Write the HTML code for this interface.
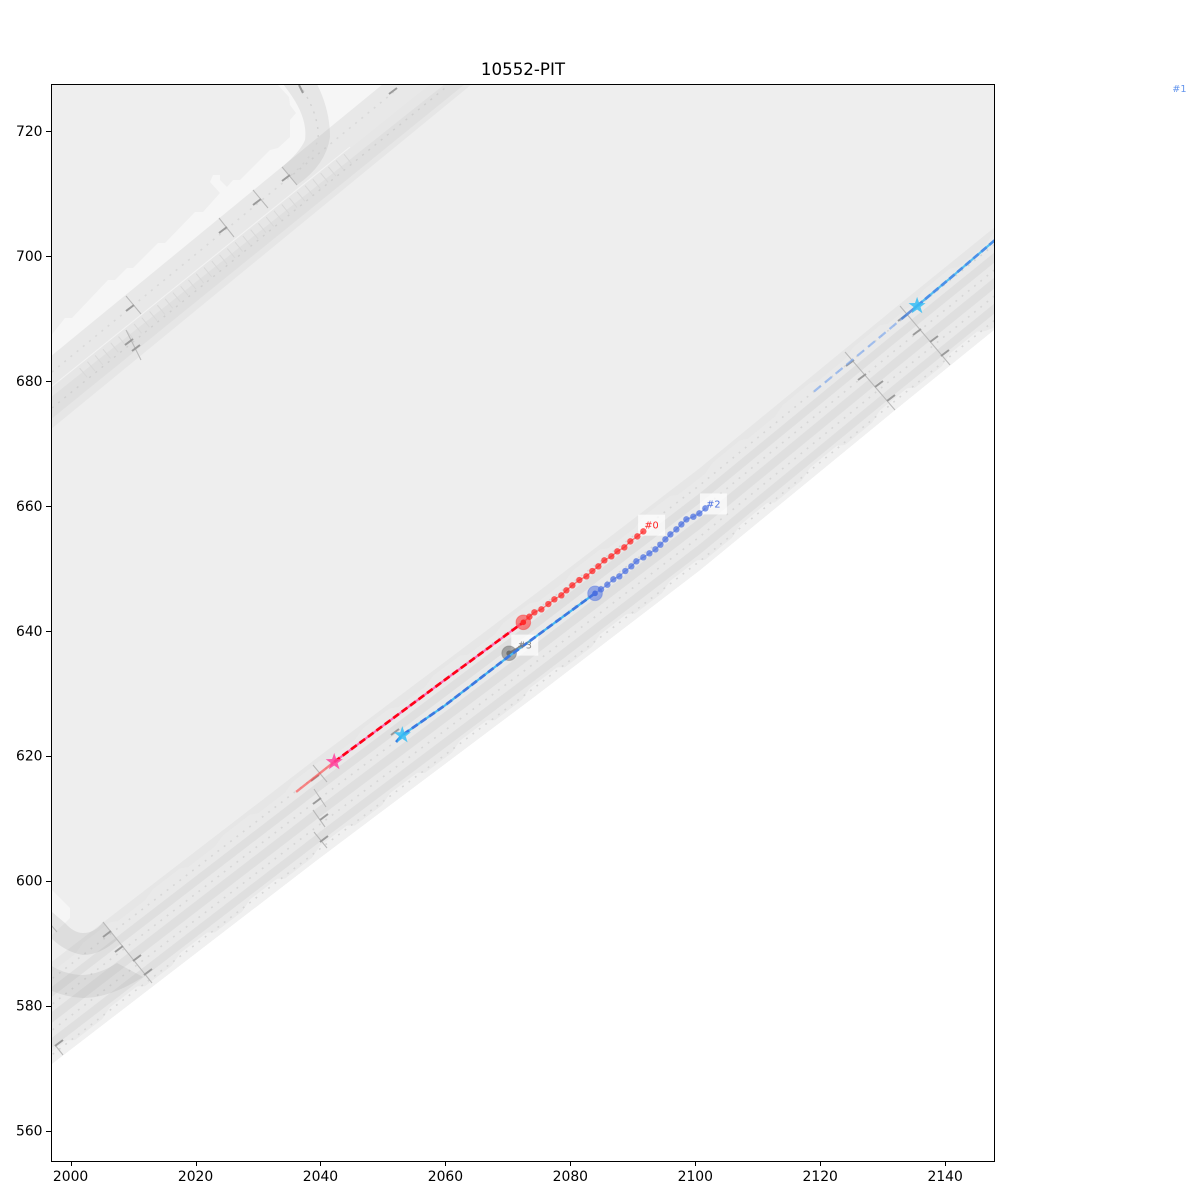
<!DOCTYPE html>
<html>
<head>
<meta charset="utf-8">
<title>10552-PIT</title>
<style>
html,body{margin:0;padding:0;background:#fff;}
svg{display:block;}
text{font-family:"DejaVu Sans","Liberation Sans",sans-serif;}
</style>
</head>
<body>
<svg id="chart" xmlns="http://www.w3.org/2000/svg" width="1200" height="1200" viewBox="0 0 1200 1200">
  <defs><clipPath id="axclip"><rect x="51" y="84" width="943" height="1077"/></clipPath></defs>
  <rect x="0" y="0" width="1200" height="1200" fill="#fff"/>
  <g id="map" clip-path="url(#axclip)">
    <polygon points="40,84 1000,84 1000,325 895,410 700,570 534,697 317,860 53,1063 40,1073" fill="#eeeeee"/>
    <polygon points="50,337 65,318 72,318 108,280 115,280 127,268 133,268 158,243 165,243 195,212 203,212 220,193 210,182 213,175 220,175 220,180 227,187 233,180 240,180 270,150 278,148 290,137 290,120 296,113 290,105 289,97 277,84 400,84 50,372" fill="#f6f6f6"/>
    <polygon points="50,357 383,84 430,84 50,388" fill="#e8e8e8"/>
    <polygon points="50,388 430,84 472,84 50,430" fill="#e6e6e6"/>
    <polygon points="50,398 445,84 465,84 50,420" fill="#dfdfdf"/>
    <line x1="50" y1="388" x2="350" y2="147" stroke="#f2f2f2" stroke-width="1.1"/>
    <line x1="83" y1="373" x2="350" y2="157" stroke="#d8d8d8" stroke-width="12" stroke-dasharray="1 9"/>
    <line x1="52" y1="372" x2="395" y2="91" stroke="#d9d9d9" stroke-width="1.6" stroke-dasharray="2 6"/>
    <line x1="52" y1="408" x2="450" y2="84" stroke="#cfcfcf" stroke-width="1.4" stroke-dasharray="2 6"/>
    <path d="M289,92 Q308,118 305,140 Q300,152 282,167 L297,185 Q326,165 330,137 Q330,110 317,84 L283,84 Z" fill="#969696" fill-opacity="0.16"/>
    <path d="M303,90 Q320,118 318,140 Q312,158 290,176" fill="none" stroke="#d2d2d2" stroke-width="1.4" stroke-dasharray="2 6"/>
    <g id="lanes"></g>
    <polygon points="52,890 70,908 70,918 65,923 52,935" fill="#f6f6f6"/>
    <path d="M52,912 L65,923 Q74,933 83,933 Q95,933 103,922 L117,940 Q100,955 83,955 Q65,952 50,937 Z" fill="#909090" fill-opacity="0.18"/>
    <path d="M50,965 Q66,975 83,975 Q100,974 117,963 L143,977 Q110,998 83,998 Q65,997 50,990 Z" fill="#909090" fill-opacity="0.16"/>
    <path d="M126,296L141,314M219,218L234,237M253,190L268,208M282,167L297,185M126,330L141,360M845,352L895,410M900,306L950,365M103,922L152,983M55,1045L63,1055M313,765L327,782M314,789L326,807M313,810L325,827M314,832L327,848M51,925L57,932" fill="none" stroke="#b9b9b9" stroke-width="1.1"/>
    <path d="M126,311L134,305M219,233L227,227M253,205L261,199M282,181L290,175M299,85L303,93M389,94L397,88M125,345L133,339M132,351L140,345M846,366L854,360M858,380L866,374M875,387L883,381M887,401L895,395M913,335L921,329M930,342L938,336M941,356L949,350M898,321L906,315M103,937L111,931M115,952L123,946M133,961L141,955M144,975L152,969M55,1046L63,1040M311,781L319,775M313,804L321,798M320,820L328,814M320,842L328,836M391,735L399,729" fill="none" stroke="#9b9b9b" stroke-width="2"/>
  </g>
  <g id="boxes"></g>
  <g id="traj" clip-path="url(#axclip)"></g>
  <rect x="51.5" y="84.5" width="943" height="1077" fill="none" stroke="#000" stroke-width="1" shape-rendering="crispEdges"/>
  <g id="axes"></g>
  <g id="labels"></g>
  <text x="523" y="75" text-anchor="middle" font-size="16.67" fill="#000">10552-PIT</text>
</svg>
<script>
var xTicks = [2000, 2020, 2040, 2060, 2080, 2100, 2120, 2140];
var yTicks = [560, 580, 600, 620, 640, 660, 680, 700, 720];

var agent0PastX = [2036.1, 2042.2, 2050, 2060, 2072.47];
var agent0PastY = [614.2, 619.0, 624.8, 632.2, 641.35];
var agent0FutureX = [2072.47, 2073.44, 2074.24, 2075.36, 2076.48, 2077.44, 2078.56, 2079.36, 2080.32, 2081.44, 2082.56, 2083.52, 2084.48, 2085.44, 2086.56, 2087.52, 2088.64, 2089.60, 2090.72, 2091.68];
var agent0FutureY = [641.35, 642.25, 642.95, 643.43, 644.28, 645.03, 645.67, 646.47, 647.27, 648.12, 648.71, 649.56, 650.31, 651.27, 651.91, 652.71, 653.35, 654.31, 655.11, 655.91];

var agent2PastX = [2052.1, 2053.1, 2060, 2070, 2083.95];
var agent2PastY = [622.2, 623.3, 628.1, 635.8, 645.99];
var agent2FutureX = [2083.95, 2084.91, 2085.92, 2086.88, 2087.84, 2088.80, 2089.76, 2090.56, 2091.68, 2092.65, 2093.61, 2094.41, 2095.21, 2096.01, 2096.97, 2097.77, 2098.57, 2099.69, 2100.65, 2101.61];
var agent2FutureY = [645.99, 646.63, 647.37, 648.23, 648.71, 649.56, 650.31, 651.11, 651.75, 652.39, 653.03, 653.78, 654.63, 655.43, 656.23, 657.03, 657.83, 658.26, 658.79, 659.59];

var agent1FadedX = [2119.0, 2127, 2133, 2135.5];
var agent1FadedY = [678.3, 684.9, 689.9, 692.0];
var agent1PastX = [2135.5, 2141, 2148.5];
var agent1PastY = [692.0, 696.6, 703.0];

var agent3X = [2070.2, 2071.6, 2072.3];
var agent3Y = [636.4, 637.2, 637.7];

var laneEdgeX = [40, 53, 317, 534, 700, 895, 1000];
var laneEdgeY = [1073, 1063, 860, 697, 570, 410, 325];

var NS = 'http://www.w3.org/2000/svg';
function xf(x){ return 70.6 + (x - 2000) * 6.247; }
function yf(y){ return 131 + (720 - y) * 6.247; }
function mk(tag, parent, attrs){
  var el = document.createElementNS(NS, tag);
  for (var k in attrs) el.setAttribute(k, attrs[k]);
  parent.appendChild(el);
  return el;
}
function ptsOf(xs, ys){
  return xs.map(function(x, i){ return xf(x).toFixed(1) + ',' + yf(ys[i]).toFixed(1); }).join(' ');
}
function offsetEdge(off){
  return laneEdgeX.map(function(x, i){ return x + ',' + (laneEdgeY[i] - off); });
}
function edgeY(x){
  for (var i = 0; i < laneEdgeX.length - 1; i++) {
    if (x <= laneEdgeX[i + 1]) {
      return laneEdgeY[i] + (laneEdgeY[i + 1] - laneEdgeY[i]) * (x - laneEdgeX[i]) / (laneEdgeX[i + 1] - laneEdgeX[i]);
    }
  }
  return laneEdgeY[laneEdgeY.length - 1];
}
function scallop(base, amp, phase){
  var out = [], x = 40, i = phase;
  while (x <= 1000) {
    var off = base + (i % 4 < 2 ? amp : 0);
    out.push(x + ',' + (edgeY(x) - off).toFixed(1));
    x += (i % 2 ? 8 : 27);
    i++;
  }
  return out;
}

var lanes = document.getElementById('lanes');
function band(name, a, b, fill){
  var el = mk('polygon', lanes, {points: offsetEdge(a).concat(offsetEdge(b).reverse()).join(' '), fill: fill});
  
  
}
function scallopBand(name, a, b, amp, phase, fill){
  var el = mk('polygon', lanes, {points: offsetEdge(a).concat(scallop(b, amp, phase).reverse()).join(' '), fill: fill});
  
  
}
function dots(name, off){
  var el = mk('polyline', lanes, {points: offsetEdge(off).join(' '), fill: 'none', stroke: '#d6d6d6', 'stroke-width': 1.6, 'stroke-dasharray': '1.8 6.2'});
  
  
}
band('road-surface', 0, 102, '#e9e9e9');
scallopBand('road-outer-shoulder', 0, 6, 6, 0, '#f0f0f0');
scallopBand('road-inner-shoulder', 102, 92, 5, 1, '#e6e6e6');
band('road-median-near', 16, 26, '#dfdfdf');
band('road-median-middle', 41, 52, '#dfdfdf');
band('road-median-far', 67, 77, '#dfdfdf');
dots('lane-dots-outer', 9);
dots('lane-dots-near', 33.5);
dots('lane-dots-middle', 59.5);
dots('lane-dots-inner', 85);

var axes = document.getElementById('axes');
xTicks.forEach(function(t){
  var px = Math.round(xf(t)) + 0.5;
  var tickLine = mk('line', axes, {x1: px, x2: px, y1: 1162, y2: 1166, stroke: '#000', 'stroke-width': 1, 'shape-rendering': 'crispEdges'});
  
  
  var tickText = mk('text', axes, {x: xf(t), y: 1181, 'text-anchor': 'middle', 'font-size': 13.9, fill: '#000'});
  
  
  tickText.textContent = t;
});
yTicks.forEach(function(t){
  var py = Math.round(yf(t)) + 0.5;
  var tickLine = mk('line', axes, {x1: 46, x2: 51, y1: py, y2: py, stroke: '#000', 'stroke-width': 1, 'shape-rendering': 'crispEdges'});
  
  
  var tickText = mk('text', axes, {x: 42.5, y: yf(t) + 5, 'text-anchor': 'end', 'font-size': 13.9, fill: '#000'});
  
  
  tickText.textContent = t;
});

var traj = document.getElementById('traj');
function path(name, xs, ys, color, width, dash, opacity){
  var el = mk('polyline', traj, {points: ptsOf(xs, ys), fill: 'none', stroke: color, 'stroke-width': width, 'stroke-opacity': opacity});
  if (dash) el.setAttribute('stroke-dasharray', dash);
  
  
}
function dotsOf(name, xs, ys, color){
  var line = mk('polyline', traj, {points: ptsOf(xs, ys), fill: 'none', stroke: color, 'stroke-width': 1.4, 'stroke-opacity': 0.55});
  
  
  xs.forEach(function(x, i){
    if (i === 0) return;
    var el = mk('circle', traj, {cx: xf(x), cy: yf(ys[i]), r: 3.2, fill: color, 'fill-opacity': 0.72});
    
    
  });
}
function current(name, x, y, color){
  var halo = mk('circle', traj, {cx: xf(x), cy: yf(y), r: 7.3, fill: color, 'fill-opacity': 0.55, stroke: color, 'stroke-opacity': 0.4});
  
  
  var core = mk('circle', traj, {cx: xf(x), cy: yf(y), r: 2.8, fill: color});
  
  
}
function star(name, x, y, color){
  var p = [], i;
  for (i = 0; i < 10; i++) {
    var r = i % 2 ? 3.6 : 9, a = -Math.PI / 2 + i * Math.PI / 5;
    p.push((xf(x) + r * Math.cos(a)).toFixed(1) + ',' + (yf(y) + r * Math.sin(a)).toFixed(1));
  }
  var el = mk('polygon', traj, {points: p.join(' '), fill: color, 'fill-opacity': 0.85});
  
  
}

path('agent-0-start-faded', agent0PastX.slice(0, 2), agent0PastY.slice(0, 2), '#ff4040', 2.4, '', 0.6);
path('agent-0-history-under', agent0PastX.slice(1), agent0PastY.slice(1), '#ff69b4', 2.2, '', 1);
path('agent-0-history', agent0PastX.slice(1), agent0PastY.slice(1), '#ff0018', 2.7, '7 3.5', 1);
dotsOf('agent-0-future-dot', agent0FutureX, agent0FutureY, '#ff2020');
current('agent-0-current', agent0FutureX[0], agent0FutureY[0], '#ff2a2a');
star('agent-0-start-star', agent0PastX[1], agent0PastY[1], '#ff3f9e');

path('agent-3-line', agent3X, agent3Y, '#707070', 2.4, '', 0.85);
current('agent-3-current', agent3X[0], agent3Y[0], '#6e6e6e');

path('agent-2-history-under', agent2PastX, agent2PastY, '#45b8f0', 2.2, '', 1);
path('agent-2-history', agent2PastX, agent2PastY, '#3b78e0', 2.7, '7 3.5', 1);
dotsOf('agent-2-future-dot', agent2FutureX, agent2FutureY, '#4a6fe0');
current('agent-2-current', agent2FutureX[0], agent2FutureY[0], '#4a6fe0');
star('agent-2-start-star', agent2PastX[1], agent2PastY[1], '#35bdf5');

path('agent-1-faded', agent1FadedX.slice(0, 3), agent1FadedY.slice(0, 3), '#7aa6ee', 2.2, '9 5', 0.65);
path('agent-1-faded-near', agent1FadedX.slice(2), agent1FadedY.slice(2), '#4a82d8', 2.6, '', 0.85);
path('agent-1-history-under', agent1PastX, agent1PastY, '#55bff0', 2.2, '', 1);
path('agent-1-history', agent1PastX, agent1PastY, '#4a90e8', 2.7, '7 3.5', 1);
star('agent-1-start-star', agent1PastX[0], agent1PastY[0], '#35bdf5');

var boxes = document.getElementById('boxes');
var labels = document.getElementById('labels');
function label(name, text, x, y, color, box){
  var cx = xf(x), cy = yf(y);
  if (box) {
    var r = mk('rect', boxes, {x: cx - 13.5, y: cy - 10.5, width: 27, height: 21, fill: '#fff', 'fill-opacity': 0.7});
    
    
  }
  var t = mk('text', labels, {x: cx, y: cy + 3.5, 'text-anchor': 'middle', 'font-size': 9.7, fill: color});
  
  
  t.textContent = text;
}
label('agent-0-label', '#0', 2093, 656.9, '#ff2020', true);
label('agent-2-label', '#2', 2102.9, 660.3, '#4a6fe0', true);
label('agent-3-label', '#3', 2072.7, 637.7, '#808080', true);
label('agent-1-label', '#1', 2177.5, 726.8, '#6495ed', false);
</script>
</body>
</html>
